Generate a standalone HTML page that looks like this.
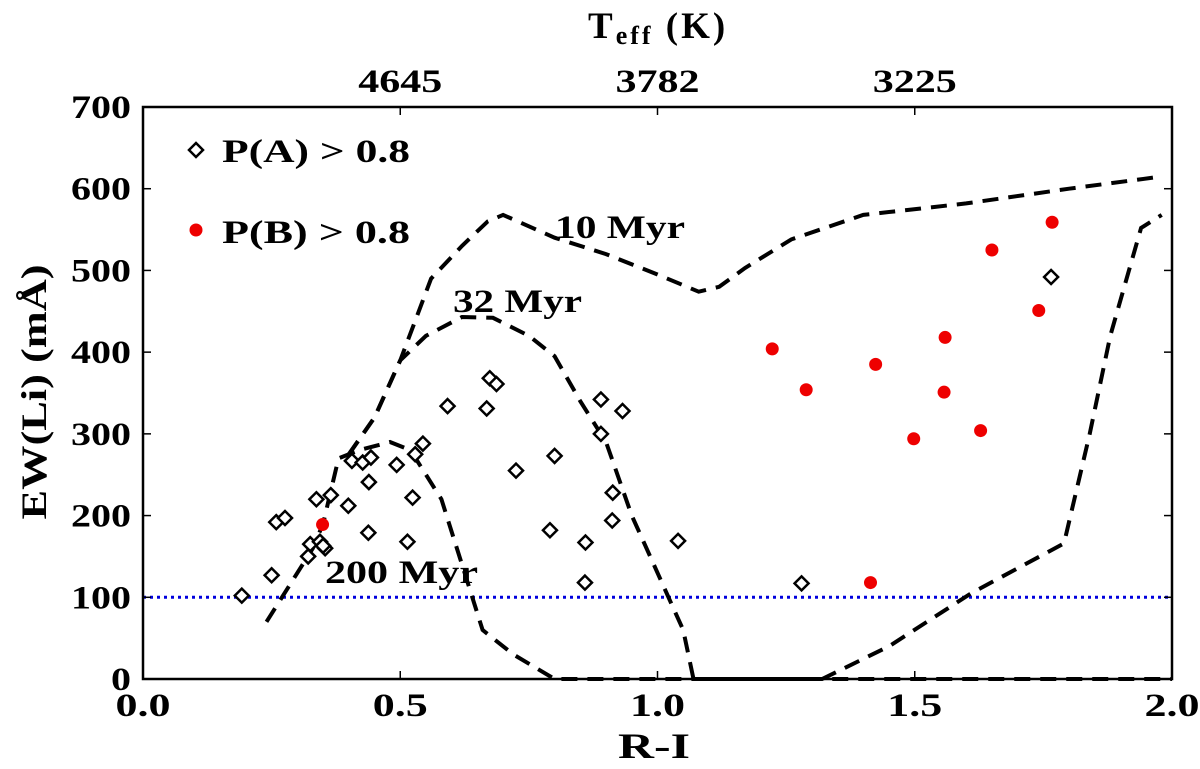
<!DOCTYPE html>
<html><head><meta charset="utf-8"><style>
body{margin:0;background:#fff}
svg text{font-family:"Liberation Serif",serif;font-weight:bold;fill:#000}
</style></head><body>
<svg id="chart" width="1200" height="764" xmlns="http://www.w3.org/2000/svg"></svg>
<script>
const xTicks=[0.0,0.5,1.0,1.5,2.0];
const xTickLabels=["0.0","0.5","1.0","1.5","2.0"];
const yTicks=[0,100,200,300,400,500,600,700];
const topTicks=[0.5,1.0,1.5];
const topTickLabels=["4645","3782","3225"];
const groupAx=[0.192,0.250,0.259,0.276,0.337,0.365,0.325,0.321,0.344,0.354,0.350,0.399,0.406,0.427,0.443,0.439,0.438,0.493,0.529,0.544,0.524,0.514,0.592,0.668,0.674,0.687,0.725,0.800,0.791,0.860,0.859,0.890,0.932,0.890,0.913,0.912,1.040,1.280,1.765];
const groupAy=[102,127,192,197,220,225,165,150,168,160,163,212,267,265,271,241,179,262,275,288,222,168,334,331,368,361,255,273,182,167,118,342,328,300,228,194,169,117,492];
const groupBx=[0.349,1.223,1.289,1.424,1.414,1.498,1.559,1.557,1.628,1.650,1.741,1.767];
const groupBy=[189,404,354,385,118,294,418,351,304,525,451,559];
const iso10x=[0.40,0.45,0.50,0.53,0.56,0.62,0.67,0.70,0.80,0.90,1.00,1.08,1.12,1.17,1.26,1.40,1.60,1.80,1.98];
const iso10y=[275,320,390,440,490,530,560,568,540,520,495,474,480,503,538,568,582,600,615];
const iso32x=[0.40,0.45,0.50,0.55,0.62,0.68,0.75,0.80,0.85,0.90,0.95,1.00,1.05,1.07,2.0];
const iso32y=[275,320,390,420,443,442,420,395,340,290,200,130,60,0,0];
const iso200x=[0.24,0.30,0.33,0.35,0.38,0.42,0.48,0.52,0.58,0.62,0.66,0.72,0.80,1.32,1.45,1.61,1.79,1.84,1.88,1.94,1.98];
const iso200y=[70,130,160,190,270,280,290,280,220,140,60,30,0,0,40,105,166,300,420,552,568];
const L=143,R=1172,T=107,B=679;
const X=v=>L+(v-0)/2*(R-L);
const Y=v=>B-v/700*(B-T);
const svg=document.getElementById('chart');
const NS="http://www.w3.org/2000/svg";
function mk(t,a,parent){const e=document.createElementNS(NS,t);for(const k in a)e.setAttribute(k,a[k]);(parent||svg).appendChild(e);return e;}
let e=mk('line',{x1:L,x2:R,y1:Y(100),y2:Y(100),stroke:'#0000dd','stroke-width':3,'stroke-dasharray':'3,4'});


function iso(xs,ys,name){const p=xs.map((x,i)=>(i?'L':'M')+X(x).toFixed(1)+','+Y(ys[i]).toFixed(1)).join('');
const el=mk('path',{d:p,fill:'none',stroke:'#000','stroke-width':4,'stroke-dasharray':'16,10'});

}
iso(iso10x,iso10y,'isochrone-10-myr');
iso(iso32x,iso32y,'isochrone-32-myr');
iso(iso200x,iso200y,'isochrone-200-myr');
groupAx.forEach((x,i)=>{const cx=X(x),cy=Y(groupAy[i]);
const d=mk('polygon',{points:`${cx},${cy-7} ${cx+7},${cy} ${cx},${cy+7} ${cx-7},${cy}`,fill:'#fff',stroke:'#000','stroke-width':2.5});

});
groupBx.forEach((x,i)=>{const c=mk('circle',{cx:X(x),cy:Y(groupBy[i]),r:6.5,fill:'#ee0000'});

});
e=mk('rect',{x:L,y:T,width:R-L,height:B-T,fill:'none',stroke:'#000','stroke-width':2.5});


xTicks.forEach((v,i)=>{mk('line',{x1:X(v),x2:X(v),y1:B,y2:B-8,stroke:'#000','stroke-width':1.5});
const t=mk('text',{x:X(v),y:B+37,'text-anchor':'middle','font-size':33,textLength:55,lengthAdjust:'spacingAndGlyphs'});t.textContent=xTickLabels[i];

});
yTicks.forEach(v=>{mk('line',{x1:L,x2:L+8,y1:Y(v),y2:Y(v),stroke:'#000','stroke-width':1.5});
mk('line',{x1:R,x2:R-8,y1:Y(v),y2:Y(v),stroke:'#000','stroke-width':1.5});
const s=String(v);
const t=mk('text',{x:L-12,y:Y(v)+11,'text-anchor':'end','font-size':33,textLength:s.length*20,lengthAdjust:'spacingAndGlyphs'});t.textContent=s;

});
topTicks.forEach((v,i)=>{mk('line',{x1:X(v),x2:X(v),y1:T,y2:T+8,stroke:'#000','stroke-width':1.5});
const t=mk('text',{x:X(v),y:T-15,'text-anchor':'middle','font-size':33,textLength:84,lengthAdjust:'spacingAndGlyphs'});t.textContent=topTickLabels[i];

});
</script>
<svg style="position:absolute;left:0;top:0" width="1200" height="764" xmlns="http://www.w3.org/2000/svg">
<text x="588" y="38" font-size="37" letter-spacing="3">T<tspan font-size="26" dy="6">eff</tspan><tspan dy="-6"> (K)</tspan></text>
<text x="618" y="758" font-size="36" textLength="72" lengthAdjust="spacingAndGlyphs">R-I</text>
<text transform="translate(46,392) rotate(-90)" text-anchor="middle" font-size="36" textLength="255" lengthAdjust="spacingAndGlyphs">EW(Li) (mÅ)</text>
<g>
<polygon points="196,143 203,150 196,157 189,150" fill="#fff" stroke="#000" stroke-width="2.5"/>
<text x="222" y="162" font-size="33" textLength="188" lengthAdjust="spacingAndGlyphs">P(A) &gt; 0.8</text>
<circle cx="196" cy="230" r="6.5" fill="#ee0000"/>
<text x="222" y="243" font-size="33" textLength="188" lengthAdjust="spacingAndGlyphs">P(B) &gt; 0.8</text>
</g>
<text x="555" y="238" font-size="33" textLength="130" lengthAdjust="spacingAndGlyphs">10 Myr</text>
<text x="453" y="312" font-size="33" textLength="129" lengthAdjust="spacingAndGlyphs">32 Myr</text>
<text x="325" y="583" font-size="33" textLength="153" lengthAdjust="spacingAndGlyphs">200 Myr</text>
</svg>
</body></html>
